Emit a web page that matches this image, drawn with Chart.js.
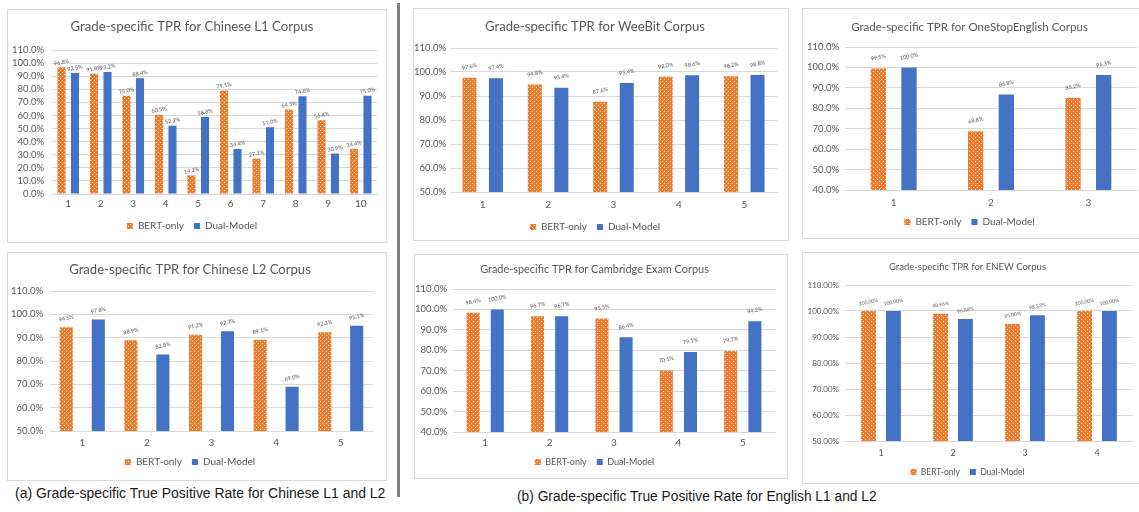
<!DOCTYPE html>
<html><head><meta charset="utf-8">
<script src="https://cdn.jsdelivr.net/npm/chart.js@4.4.0/dist/chart.umd.min.js"></script>
<style>
body{margin:0;background:#fff;width:1139px;height:512px;overflow:hidden;position:relative;font-family:Lato,sans-serif}
.box{position:absolute;border:1px solid #d9d9d9;box-sizing:border-box;overflow:hidden;background:#fff}
.box canvas{position:absolute;left:-1px;top:-1px}
.cap{position:absolute;font-family:'Liberation Sans',sans-serif;color:#1a1a1a;white-space:nowrap;line-height:1}
#sep{position:absolute;left:397px;top:3px;width:3px;height:494px;background:#808080}
</style></head>
<body>
<div class="box" id="b1"><canvas id="c1"></canvas></div>
<div class="box" id="b2"><canvas id="c2"></canvas></div>
<div class="box" id="b3"><canvas id="c3"></canvas></div>
<div class="box" id="b4"><canvas id="c4"></canvas></div>
<div class="box" id="b5"><canvas id="c5"></canvas></div>
<div class="box" id="b6"><canvas id="c6"></canvas></div>
<div id="sep"></div>
<div class="cap" id="capA">(a) Grade-specific True Positive Rate for Chinese L1 and L2</div>
<div class="cap" id="capB">(b) Grade-specific True Positive Rate for English L1 and L2</div>
<script>
// ---------------- data ----------------
const seriesNames = ['BERT-only', 'Dual-Model'];

const l1Title = 'Grade-specific TPR for Chinese L1 Corpus';
const l1Grades = ['1','2','3','4','5','6','7','8','9','10'];
const l1Bert = [96.8, 91.8, 75.0, 60.5, 14.2, 79.1, 27.1, 64.5, 56.4, 34.4];
const l1Dual = [92.5, 93.2, 88.4, 52.2, 58.8, 34.4, 51.0, 74.6, 30.9, 75.0];
const l1Ticks = [0,10,20,30,40,50,60,70,80,90,100,110];

const l2Title = 'Grade-specific TPR for Chinese L2 Corpus';
const l2Grades = ['1','2','3','4','5'];
const l2Bert = [94.5, 88.9, 91.2, 89.1, 92.3];
const l2Dual = [97.8, 82.8, 92.7, 69.0, 95.1];
const l2Ticks = [50,60,70,80,90,100,110];

const weeTitle = 'Grade-specific TPR for WeeBit Corpus';
const weeGrades = ['1','2','3','4','5'];
const weeBert = [97.6, 94.8, 87.6, 98.0, 98.2];
const weeDual = [97.4, 93.4, 95.4, 98.6, 98.8];
const weeTicks = [50,60,70,80,90,100,110];

const osTitle = 'Grade-specific TPR for OneStopEnglish Corpus';
const osGrades = ['1','2','3'];
const osBert = [99.5, 68.8, 85.2];
const osDual = [100.0, 86.8, 96.3];
const osTicks = [40,50,60,70,80,90,100,110];

const camTitle = 'Grade-specific TPR for Cambridge Exam Corpus';
const camGrades = ['1','2','3','4','5'];
const camBert = [98.4, 96.7, 95.5, 70.1, 79.7];
const camDual = [100.0, 96.7, 86.4, 79.1, 94.2];
const camTicks = [40,50,60,70,80,90,100,110];

const enewTitle = 'Grade-specific TPR for ENEW Corpus';
const enewGrades = ['1','2','3','4'];
const enewBert = [100.00, 98.96, 95.00, 100.00];
const enewDual = [100.00, 96.88, 98.33, 100.00];
const enewTicks = [50,60,70,80,90,100,110];

// ---------------- style / layout ----------------
const ORANGE = '#ED7D31', BLUE = '#4472C4', GREY = '#595959', GRID = '#D9D9D9';

function dotPattern() {
  const c = document.createElement('canvas'); c.width = 4; c.height = 4;
  const x = c.getContext('2d');
  x.fillStyle = ORANGE; x.fillRect(0, 0, 4, 4);
  x.fillStyle = 'rgba(255,255,255,0.7)';
  x.fillRect(1, 1, 1, 1); x.fillRect(3, 3, 1, 1);
  return x.createPattern(c, 'repeat');
}
const PAT = dotPattern();

const measCtx = document.createElement('canvas').getContext('2d');
function fitSize(text, family, target) {
  measCtx.font = '100px ' + family;
  return 100 * target / measCtx.measureText(text).width;
}

const valueLabels = {
  id: 'valueLabels',
  afterDatasetsDraw(chart, args, opts) {
    const ctx = chart.ctx;
    ctx.save();
    ctx.font = opts.size + 'px Lato';
    ctx.fillStyle = GREY;
    ctx.textAlign = 'center';
    ctx.textBaseline = 'middle';
    chart.data.datasets.forEach((ds, di) => {
      chart.getDatasetMeta(di).data.forEach((el, i) => {
        ctx.save();
        ctx.translate(el.x, el.y - opts.off);
        ctx.rotate(-0.2);
        ctx.fillText(ds.data[i].toFixed(opts.dec) + '%', 0, 0);
        ctx.restore();
      });
    });
    ctx.restore();
  }
};

function build(n, title, grades, bert, dual, ticks, dec, dlDec, L) {
  const box = document.getElementById('b' + n);
  box.style.left = L.x + 'px'; box.style.top = L.y + 'px';
  box.style.width = L.w + 'px'; box.style.height = L.h + 'px';
  const cv = document.getElementById('c' + n);
  cv.width = L.w; cv.height = L.h;
  const tfs = fitSize(title, 'Lato', L.tw);
  const tTop = L.tc - 0.6 * tfs;
  const tBot = L.pt - tTop - 1.2 * tfs;
  const pb = L.lc - 10 - L.lfs / 2;
  const legendH = L.lfs + 10 + 10;
  const xH = L.pbot - pb - legendH;
  const xPad = L.xo - 0.6 * L.xfs;
  new Chart(cv, {
    type: 'bar',
    data: {
      labels: grades,
      datasets: [
        { label: seriesNames[0], data: bert, backgroundColor: PAT, borderWidth: 0,
          categoryPercentage: L.cat, barPercentage: L.bar },
        { label: seriesNames[1], data: dual, backgroundColor: BLUE, borderWidth: 0,
          categoryPercentage: L.cat, barPercentage: L.bar }
      ]
    },
    options: {
      responsive: false, animation: false, devicePixelRatio: 1,
      layout: { padding: { left: 0, top: 0, right: L.pr, bottom: pb } },
      plugins: {
        title: { display: true, text: title, color: GREY,
          font: { family: 'Lato', size: tfs, weight: 'normal' },
          padding: { top: tTop, bottom: tBot } },
        legend: { display: true, position: 'bottom',
          labels: { color: GREY, boxWidth: 6, boxHeight: 6, padding: 10,
            font: { family: 'Lato', size: L.lfs } } },
        tooltip: { enabled: false },
        valueLabels: { size: L.dfs, dec: dlDec, off: L.doff }
      },
      scales: {
        x: {
          grid: { display: false, drawTicks: false },
          border: { display: true, color: GRID },
          ticks: { color: GREY, font: { family: 'Lato', size: L.xfs }, padding: xPad,
            autoSkip: false, maxRotation: 0 },
          afterFit: s => { s.height = xH; }
        },
        y: {
          min: ticks[0], max: ticks[ticks.length - 1],
          afterBuildTicks: s => { s.ticks = ticks.map(v => ({ value: v })); },
          grid: { color: GRID, drawTicks: false },
          border: { display: false },
          ticks: { color: GREY, font: { family: 'Lato', size: L.yfs }, padding: L.ypad,
            autoSkip: false,
            callback: v => Number(v).toFixed(dec) + '%' },
          afterFit: s => { s.width = L.pl; }
        }
      }
    },
    plugins: [valueLabels]
  });
}

build(1, l1Title, l1Grades, l1Bert, l1Dual, l1Ticks, 1, 1,
  { x: 7, y: 9, w: 380, h: 234, pl: 45, pr: 10, pt: 41, pbot: 49, tc: 18, tw: 243, xo: 10, lc: 17,
    yfs: 9.5, xfs: 10, lfs: 10, dfs: 5.5, doff: 5, cat: 0.83, bar: 0.6, ypad: 8 });
build(2, l2Title, l2Grades, l2Bert, l2Dual, l2Ticks, 1, 1,
  { x: 7, y: 252, w: 380, h: 229, pl: 43, pr: 14, pt: 39, pbot: 50, tc: 18, tw: 242, xo: 12, lc: 19,
    yfs: 9.5, xfs: 10, lfs: 10, dfs: 5.5, doff: 9, cat: 0.99, bar: 0.41, ypad: 7 });
build(3, weeTitle, weeGrades, weeBert, weeDual, weeTicks, 1, 1,
  { x: 413, y: 8, w: 376, h: 233, pl: 37, pr: 12, pt: 40, pbot: 49, tc: 19, tw: 220, xo: 13, lc: 14,
    yfs: 9.5, xfs: 10, lfs: 10, dfs: 5.5, doff: 11, cat: 0.81, bar: 0.53, ypad: 4 });
build(4, osTitle, osGrades, osBert, osDual, osTicks, 1, 1,
  { x: 802, y: 8, w: 340, h: 231, pl: 43, pr: 5, pt: 39, pbot: 49, tc: 19, tw: 237, xo: 13, lc: 17,
    yfs: 9.5, xfs: 10, lfs: 10, dfs: 5.5, doff: 11, cat: 0.63, bar: 0.5, ypad: 6 });
build(5, camTitle, camGrades, camBert, camDual, camTicks, 1, 1,
  { x: 414, y: 254, w: 374, h: 225, pl: 39, pr: 13, pt: 35, pbot: 47, tc: 15, tw: 229, xo: 11, lc: 17,
    yfs: 9.5, xfs: 10, lfs: 9, dfs: 5.5, doff: 11, cat: 0.75, bar: 0.54, ypad: 6 });
build(6, enewTitle, enewGrades, enewBert, enewDual, enewTicks, 2, 2,
  { x: 802, y: 252, w: 340, h: 232, pl: 43, pr: 9, pt: 33, pbot: 43, tc: 15, tw: 157, xo: 12, lc: 12,
    yfs: 8, xfs: 9, lfs: 8.5, dfs: 5, doff: 9, cat: 0.69, bar: 0.6, ypad: 6 });

function placeCap(id, x, yc, w) {
  const el = document.getElementById(id);
  const fs = fitSize(el.textContent, "'Liberation Sans'", w);
  el.style.fontSize = fs + 'px';
  el.style.left = x + 'px';
  el.style.top = (yc - fs / 2) + 'px';
}
placeCap('capA', 15, 493, 371);
placeCap('capB', 517, 497, 360);
</script>
</body></html>
